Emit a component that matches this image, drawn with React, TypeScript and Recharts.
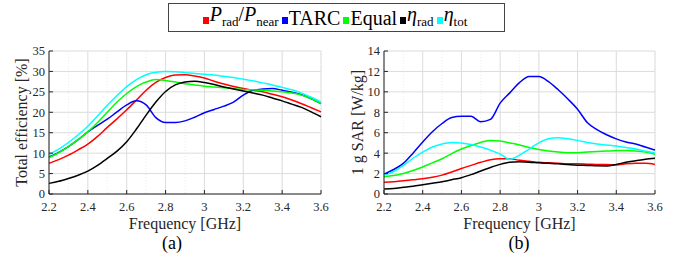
import React from 'react';
import {
	CartesianGrid,
	Label,
	Legend,
	Line,
	LineChart,
	XAxis,
	YAxis,
} from 'recharts';

const freq = [
	2.2, 2.25, 2.3, 2.35, 2.4, 2.45, 2.5, 2.55, 2.6, 2.65, 2.7, 2.75, 2.8, 2.85,
	2.9, 2.95, 3.0, 3.05, 3.1, 3.15, 3.2, 3.25, 3.3, 3.35, 3.4, 3.45, 3.5, 3.55,
	3.6,
];

// (a) total efficiency [%]
const effRatio = [
	7.5, 8.4, 9.5, 10.8, 12.2, 14.1, 16.3, 18.4, 20.6, 23.0, 25.4, 27.3, 28.5,
	29.1, 29.2, 28.9, 28.4, 27.6, 26.9, 26.3, 25.8, 25.4, 25.0, 24.4, 23.8, 23.0,
	22.1, 21.1, 20.1,
];
const effTarc = [
	9.1, 10.2, 11.6, 13.3, 15.2, 16.8, 18.3, 20.1, 21.8, 22.8, 21.8, 18.7, 17.5,
	17.5, 17.9, 18.8, 19.9, 20.7, 21.5, 22.5, 24.2, 25.4, 25.7, 25.8, 25.4, 24.9,
	24.3, 23.3, 22.1,
];
const effEqual = [
	8.9, 10.1, 11.6, 13.3, 15.2, 17.5, 20.0, 22.5, 24.6, 26.3, 27.4, 28.0, 27.8,
	27.4, 27.0, 26.7, 26.4, 26.2, 26.0, 25.8, 25.6, 25.5, 25.4, 25.2, 25.0, 24.7,
	24.2, 23.3, 22.1,
];
const effRad = [
	2.6, 3.1, 3.8, 4.6, 5.6, 7.0, 8.7, 10.5, 12.8, 15.9, 19.3, 22.5, 25.1, 26.7,
	27.4, 27.6, 27.3, 26.8, 26.2, 25.7, 25.2, 24.7, 24.2, 23.5, 22.8, 22.0, 21.2,
	20.1, 18.9,
];
const effTot = [
	9.7, 11.0, 12.6, 14.5, 16.6, 19.1, 21.7, 24.1, 26.3, 28.0, 29.2, 29.8, 30.0,
	29.9, 29.7, 29.5, 29.3, 29.1, 28.8, 28.5, 28.1, 27.7, 27.2, 26.7, 26.1, 25.5,
	24.7, 23.7, 22.5,
];

// (b) 1 g SAR [W/kg]
const sarRatio = [
	1.15, 1.2, 1.3, 1.4, 1.5, 1.65, 1.85, 2.15, 2.5, 2.8, 3.1, 3.35, 3.45, 3.45,
	3.3, 3.2, 3.1, 3.05, 3.0, 2.95, 2.95, 2.92, 2.9, 2.88, 2.85, 2.95, 3.0, 3.0,
	2.9,
];
const sarTarc = [
	1.95, 2.4, 3.0, 4.0, 5.1, 6.1, 6.9, 7.5, 7.6, 7.6, 7.07, 7.3, 8.9, 9.9, 10.9,
	11.5, 11.5, 11.0, 10.2, 9.3, 8.3, 7.0, 6.3, 5.8, 5.4, 5.1, 4.9, 4.6, 4.3,
];
const sarEqual = [
	1.7, 1.8, 2.0, 2.3, 2.65, 3.05, 3.45, 3.95, 4.4, 4.75, 5.05, 5.25, 5.2, 5.0,
	4.8, 4.55, 4.35, 4.2, 4.1, 4.05, 4.05, 4.1, 4.15, 4.2, 4.25, 4.25, 4.2, 4.1,
	3.9,
];
const sarRad = [
	0.5, 0.55, 0.65, 0.75, 0.9, 1.05, 1.2, 1.4, 1.6, 1.9, 2.25, 2.6, 2.9, 3.1,
	3.15, 3.12, 3.05, 3.0, 2.95, 2.88, 2.82, 2.8, 2.76, 2.75, 2.9, 3.1, 3.25, 3.4,
	3.5,
];
const sarTot = [
	1.85, 2.2, 2.8, 3.5, 4.1, 4.6, 4.9, 5.05, 5.0, 4.85, 4.6, 4.3, 3.9, 3.4, 3.8,
	4.4, 5.0, 5.4, 5.5, 5.4, 5.25, 5.05, 4.9, 4.8, 4.7, 4.55, 4.4, 4.2, 4.0,
];

const freqTicks = [2.2, 2.4, 2.6, 2.8, 3, 3.2, 3.4, 3.6];
const freqMinor = [
	2.2, 2.3, 2.4, 2.5, 2.6, 2.7, 2.8, 2.9, 3, 3.1, 3.2, 3.3, 3.4, 3.5, 3.6,
];
const effTicks = [0, 5, 10, 15, 20, 25, 30, 35];
const sarTicks = [0, 2, 4, 6, 8, 10, 12, 14];

const effData = freq.map((f, i) => ({
	f,
	ratio: effRatio[i],
	tarc: effTarc[i],
	equal: effEqual[i],
	rad: effRad[i],
	tot: effTot[i],
}));

const sarData = freq.map((f, i) => ({
	f,
	ratio: sarRatio[i],
	tarc: sarTarc[i],
	equal: sarEqual[i],
	rad: sarRad[i],
	tot: sarTot[i],
}));

const series = [
	{ key: 'ratio', color: '#ff0000' },
	{ key: 'tarc', color: '#0000ff' },
	{ key: 'equal', color: '#00ff00' },
	{ key: 'rad', color: '#000000' },
	{ key: 'tot', color: '#00ffff' },
];

const FONT = '"Liberation Serif", "DejaVu Serif", serif';
const TEXT = '#262626';

const sub = { fontSize: 13 };

const legendLabels: Record<string, React.ReactNode> = {
	ratio: (
		<span>
			<i>P</i>
			<sub style={sub}>rad</sub>/<i>P</i>
			<sub style={sub}>near</sub>
		</span>
	),
	tarc: <span>TARC</span>,
	equal: <span>Equal</span>,
	rad: (
		<span>
			<i>η</i>
			<sub style={sub}>rad</sub>
		</span>
	),
	tot: (
		<span>
			<i>η</i>
			<sub style={sub}>tot</sub>
		</span>
	),
};

function LegendBox() {
	return (
		<div
			style={{
				display: 'flex',
				alignItems: 'center',
				justifyContent: 'center',
				border: '1px solid #444',
				background: '#fff',
				height: 27,
				fontFamily: FONT,
				fontSize: 20,
				lineHeight: '20px',
				color: '#000',
				whiteSpace: 'nowrap',
			}}
		>
			{series.map((s) => (
				<span
					key={s.key}
					style={{ display: 'flex', alignItems: 'center', marginRight: 3 }}
				>
					<span
						style={{
							width: 6,
							height: 7,
							background: s.color,
							marginRight: 1,
							marginTop: 5,
						}}
					/>
					{legendLabels[s.key]}
				</span>
			))}
		</div>
	);
}

interface PanelProps {
	data: typeof effData;
	yTicks: number[];
	yMax: number;
	yLabel: string;
	yWidth: number;
	marginLeft: number;
	marginRight: number;
	labelOffset: number;
	width: number;
	withLegend?: boolean;
}

function Panel({
	data,
	yTicks,
	yMax,
	yLabel,
	yWidth,
	marginLeft,
	marginRight,
	labelOffset,
	width,
	withLegend,
}: PanelProps) {
	const tickStyle = { fill: TEXT, fontSize: 12.5, fontFamily: FONT };
	return (
		<LineChart
			width={width}
			height={240}
			data={data}
			margin={{ top: 51, right: marginRight, left: marginLeft, bottom: 6 }}
		>
			<XAxis
				xAxisId="minor"
				dataKey="f"
				type="number"
				domain={[2.2, 3.6]}
				ticks={freqMinor}
				hide
			/>
			<CartesianGrid
				xAxisId="minor"
				horizontal={false}
				stroke="#ececec"
				strokeDasharray="1 2"
			/>
			<CartesianGrid stroke="#dcdcdc" />
			<XAxis
				dataKey="f"
				type="number"
				domain={[2.2, 3.6]}
				ticks={freqTicks}
				interval={0}
				height={40}
				tick={tickStyle}
				tickSize={-4}
				tickMargin={12}
				stroke={TEXT}
			>
				<Label
					value="Frequency [GHz]"
					position="insideBottom"
					offset={5}
					style={{ fill: TEXT, fontSize: 16, fontFamily: FONT }}
				/>
			</XAxis>
			<YAxis
				type="number"
				domain={[0, yMax]}
				ticks={yTicks}
				interval={0}
				width={yWidth}
				tick={tickStyle}
				tickSize={-4}
				tickMargin={8}
				stroke={TEXT}
			>
				<Label
					value={yLabel}
					angle={-90}
					position="insideLeft"
					offset={labelOffset}
					style={{
						fill: TEXT,
						fontSize: 16,
						fontFamily: FONT,
						textAnchor: 'middle',
					}}
				/>
			</YAxis>
			{withLegend && (
				<Legend
					layout="horizontal"
					verticalAlign="middle"
					align="center"
					content={() => <LegendBox />}
					wrapperStyle={{
						position: 'absolute',
						left: 168,
						top: 3,
						width: 337,
						height: 29,
					}}
				/>
			)}
			{series.map((s) => (
				<Line
					key={s.key}
					dataKey={s.key}
					type="monotone"
					stroke={s.color}
					strokeWidth={1.5}
					dot={false}
					activeDot={false}
					isAnimationActive={false}
				/>
			))}
		</LineChart>
	);
}

export default function App() {
	const caption = {
		position: 'absolute' as const,
		top: 233,
		fontFamily: FONT,
		fontSize: 18,
		color: '#000',
		width: 60,
		textAlign: 'center' as const,
	};
	return (
		<div
			style={{
				position: 'absolute',
				left: 0,
				top: 0,
				width: 683,
				height: 268,
				background: '#fff',
			}}
		>
			<div style={{ position: 'absolute', left: 0, top: 0 }}>
				<Panel
					data={effData}
					yTicks={effTicks}
					yMax={35}
					yLabel="Total efficiency [%]"
					yWidth={40}
					marginLeft={9}
					marginRight={19}
					labelOffset={12}
					width={340}
					withLegend
				/>
			</div>
			<div style={{ position: 'absolute', left: 340, top: 0 }}>
				<Panel
					data={sarData}
					yTicks={sarTicks}
					yMax={14}
					yLabel="1 g SAR [W/kg]"
					yWidth={36}
					marginLeft={8}
					marginRight={28}
					labelOffset={9}
					width={343}
				/>
			</div>
			<div style={{ ...caption, left: 142 }}>(a)</div>
			<div style={{ ...caption, left: 489 }}>(b)</div>
		</div>
	);
}
